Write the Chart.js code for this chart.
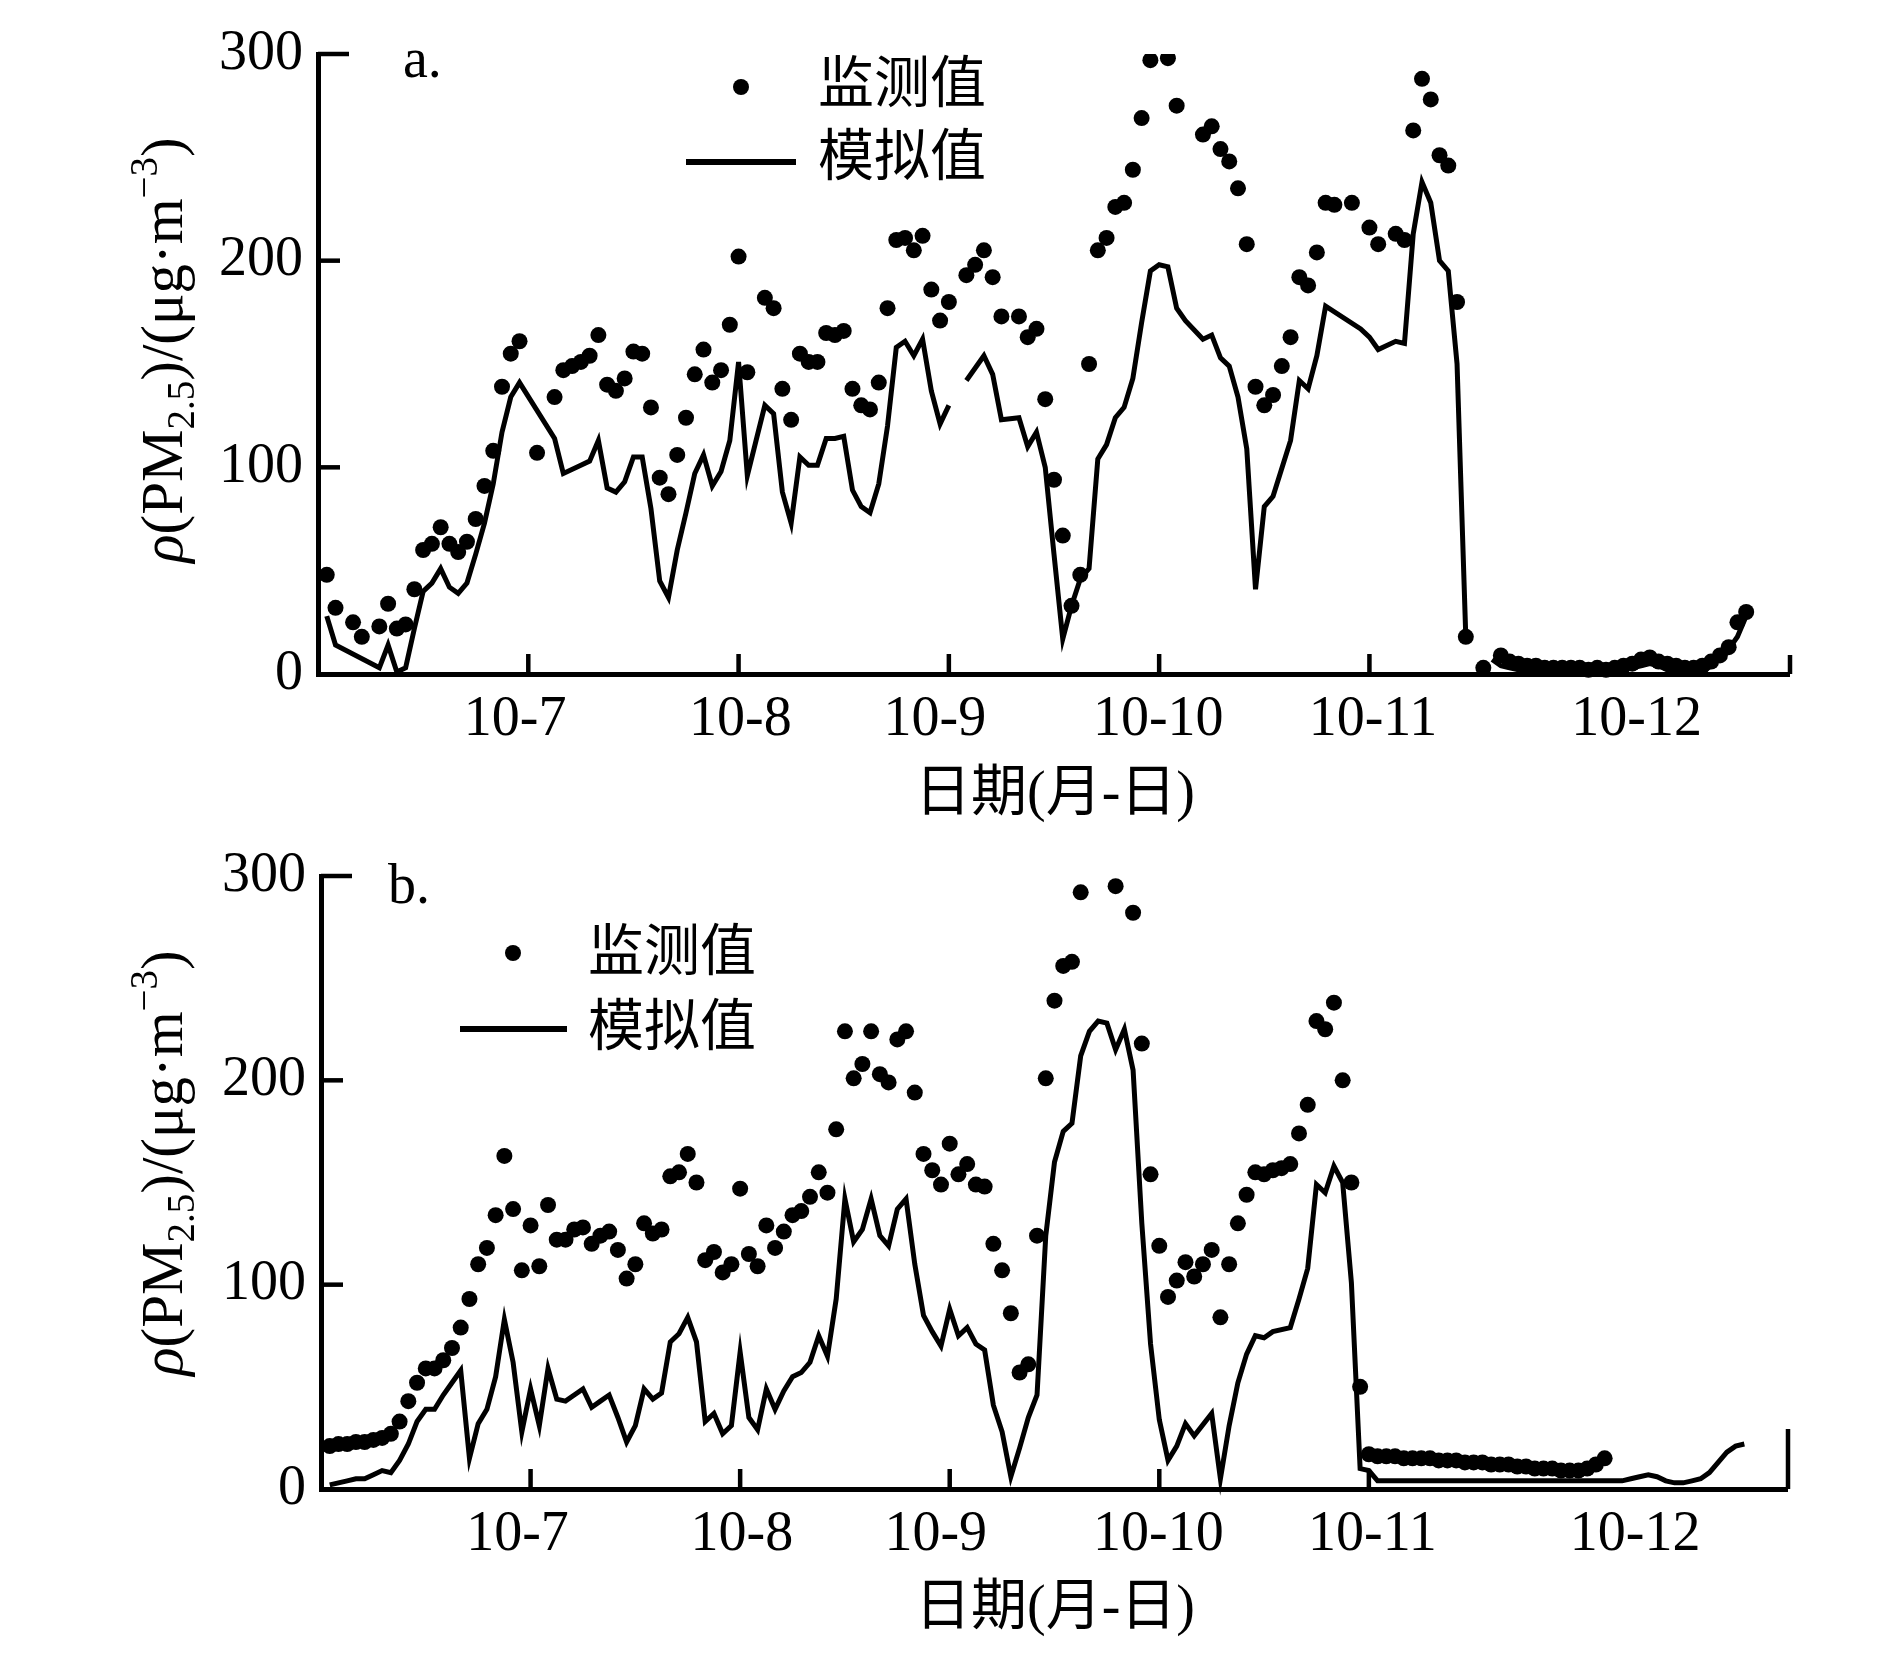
<!DOCTYPE html>
<html>
<head>
<meta charset="utf-8">
<script src="https://cdn.jsdelivr.net/npm/chart.js"></script>
<style>
  html, body { margin: 0; padding: 0; background: #fff; }
  body { width: 1887px; height: 1666px; position: relative; overflow: hidden; }
  canvas { position: absolute; left: 0; display: block; }
</style>
</head>
<body>
<canvas id="chartA" width="1887" height="833" style="top:0px"></canvas>
<canvas id="chartB" width="1887" height="833" style="top:833px"></canvas>
<script>
// ---------------- DATA ----------------
// x values are hours counted from 10-6 00:00 (one point per hour)
const xLabels   = ['10-7', '10-8', '10-9', '10-10', '10-11', '10-12'];
const xLabelPos = [22.5, 48.2, 70.4, 95.9, 120.4, 150.5];
const xTickHours = [24, 48, 72, 96, 120, 168];
const yTickValues = [0, 100, 200, 300];
const seriesNames = ['监测值', '模拟值'];

// Panel a — observed (监测值)
const aObsHours = [1,2,4,5,7,8,9,10,
  11,12,13,14,15,16,17,18,19,20,21,22,23,
  25,27,
  28,29,30,31,32,33,34,35,36,37,38,39,40,41,42,43,44,45,46,47,48,49,
  51,52,53,54,55,56,57,58,59,60,61,62,63,64,65,66,67,68,69,70,71,72,
  74,75,76,77,78,
  80,81,82,83,84,85,86,87,88,89,90,91,92,93,94,95,
  97,98,
  101,102,103,104,105,106,107,108,109,110,111,112,113,114,115,116,
  118,120,121,
  123,124,125,126,127,128,129,130,131,
  133,
  135,136,137,138,139,140,141,142,143,144,145,146,147,148,149,150,151,152,153,154,155,156,157,158,159,160,161,162,163];
const aObsValues = [48,32,25,18,23,34,22,24,
  41,60,63,71,63,59,64,75,91,108,139,155,161,
  107,134,
  147,149,151,154,164,140,137,143,156,155,129,95,87,106,124,145,157,141,147,169,202,146,
  182,177,138,123,155,151,151,165,164,166,138,130,128,141,177,210,211,205,212,186,171,180,
  193,198,205,192,173,
  173,163,167,133,94,67,33,48,150,205,211,226,228,244,269,297,
  298,275,
  261,265,254,248,235,208,139,130,135,149,163,192,188,204,228,227,
  228,216,208,
  213,210,263,288,278,251,246,180,18,
  3,
  9,6,5,4,4,3,3,3,3,3,2,3,2,3,4,5,7,8,6,5,4,3,3,4,6,9,13,25,30];

// Panel a — simulated (模拟值); null = break in the line
const aSimHours = [1,2,7,8,9,10,
  11,12,13,14,15,16,17,18,19,20,21,22,23,
  27,28,
  30,31,32,33,34,35,36,37,38,39,40,41,42,43,44,45,46,47,48,49,50,51,52,53,54,55,56,57,58,59,60,61,62,63,64,65,66,67,68,69,70,71,72,73,
  74,76,77,78,
  80,81,82,83,84,85,86,87,88,89,90,91,92,93,94,95,96,97,98,99,
  101,102,103,104,105,106,107,108,109,
  111,112,113,114,115,
  119,120,121,
  123,124,125,126,127,128,129,130,131,132,
  134,135,136,137,138,139,140,141,142,143,144,145,146,147,148,149,150,151,152,153,154,155,156,157,158,159,160,161,162,163];
const aSimValues = [28,14,3,14,1,3,
  22,40,44,51,42,39,44,58,73,92,117,134,141,
  114,97,
  101,103,113,90,88,93,105,105,80,45,37,60,78,97,106,91,98,113,151,96,113,130,126,88,73,105,101,101,114,114,115,89,81,78,92,120,158,161,154,162,137,121,130,null,
  142,154,145,123,
  124,110,117,100,58,17,33,46,51,104,111,124,129,143,170,195,198,197,177,171,
  162,164,153,149,134,109,41,81,86,
  113,142,138,154,178,
  167,163,157,
  161,160,213,238,228,200,195,150,18,null,
  7,4,3,2,2,2,1,1,1,2,2,1,1,1,2,2,3,4,5,4,2,1,1,1,1,4,8,12,18,28];

// Panel b — observed (监测值)
const bObsHours = [1,2,3,4,5,6,7,8,9,10,
  11,12,13,14,15,16,17,18,19,20,
  21,22,23,24,25,26,27,28,29,30,
  31,32,33,34,35,36,37,38,39,40,
  41,42,43,44,45,46,47,48,49,50,
  51,52,53,54,55,56,57,58,59,60,
  61,62,63,64,65,66,67,68,69,70,
  71,72,73,74,75,76,77,78,79,80,
  81,82,83,84,85,86,87,
  91,
  93,94,95,96,97,98,99,100,
  101,102,103,104,105,106,107,108,109,110,
  111,112,113,114,115,116,117,118,119,120,
  121,122,123,124,125,126,127,128,129,130,
  131,132,133,134,135,136,137,138,139,140,
  141,142,143,144,145,146,147];
const bObsValues = [21,22,22,23,23,24,25,27,33,43,
  52,59,59,63,69,79,93,110,118,134,
  163,137,107,129,109,139,122,122,127,128,
  120,124,126,117,103,110,130,125,127,153,
  155,164,150,112,116,106,110,147,115,109,
  129,118,126,134,136,143,155,145,176,224,
  201,208,224,203,199,220,224,194,164,156,
  149,169,154,159,149,148,120,107,86,57,
  61,124,201,239,256,258,292,
  295,
  282,218,154,119,94,102,111,104,
  110,117,84,110,130,144,155,154,156,157,
  159,174,188,229,225,238,200,150,50,17,
  16,16,16,15,15,15,15,14,14,14,
  13,13,13,12,12,12,11,11,10,10,
  10,9,9,9,10,12,15];

// Panel b — simulated (模拟值)
const bSimHours = [1,2,3,4,5,6,7,8,9,10,
  11,12,13,14,15,16,17,18,19,20,
  21,22,23,24,25,26,27,28,29,30,
  31,32,33,34,35,36,37,38,39,40,
  41,42,43,44,45,46,47,48,49,50,
  51,52,53,54,55,56,57,58,59,60,
  61,62,63,64,65,66,67,68,69,70,
  71,72,73,74,75,76,77,78,79,80,
  81,82,83,84,85,86,87,88,89,90,
  91,92,93,94,95,96,97,98,99,100,
  102,103,104,105,106,107,108,109,
  111,112,113,114,115,116,117,118,119,120,
  121,122,123,124,125,126,127,128,129,130,
  131,132,133,134,135,136,137,138,139,140,
  141,142,143,144,145,146,147,148,149,150,
  151,152,153,154,155,156,157,158,159,160,
  161,162,163];
const bSimValues = [2,3,4,5,5,7,9,8,14,22,
  33,39,39,46,52,58,15,32,39,55,
  83,62,28,49,31,59,44,43,46,49,
  40,43,46,35,23,31,49,44,47,72,
  76,84,72,33,37,27,31,67,35,29,
  49,39,48,55,57,62,75,65,93,142,
  121,127,142,124,119,137,142,110,85,77,
  70,88,75,79,71,68,41,28,6,20,
  35,46,124,160,175,179,212,224,229,228,
  215,225,205,130,71,34,14,21,32,26,
  37,5,31,52,66,75,74,77,
  79,93,108,149,145,158,150,101,10,9,
  4,4,4,4,4,4,4,4,4,4,
  4,4,4,4,4,4,4,4,4,4,
  4,4,4,4,4,4,4,4,4,5,
  6,7,6,4,3,3,4,5,8,13,
  18,21,22];

// ---------------- LAYOUT / STYLE ----------------
const W = 1887, H = 833, XAXIS_H = 100;
const SERIF = '"Liberation Serif", "Times New Roman", serif';
const MIXED = '"Liberation Serif", "Noto Sans CJK SC", serif';

const panelA = {
  area: { left: 318, right: 1790, top: 54, bottom: 674 },
  letter: { text: 'a.', x: 403, y: 77 },
  legend: { dotX: 741, dotY: 87, text1X: 818, text1Y: 87, lineX1: 686, lineX2: 796, lineY: 162, text2X: 818, text2Y: 160 },
  xTitle: { x: 1055, y: 795 },
  yTitle: { x: 182, y: 350 },
  endTick: 19
};
const panelB = {
  area: { left: 321, right: 1788, top: 32, bottom: 656 },
  letter: { text: 'b.', x: 388, y: 70 },
  legend: { dotX: 513, dotY: 120, text1X: 588, text1Y: 122, lineX1: 460, lineX2: 567, lineY: 196, text2X: 588, text2Y: 197 },
  xTitle: { x: 1055, y: 776 },
  yTitle: { x: 182, y: 330 },
  endTick: 60
};

function drawYTitle(ctx, bx, cy) {
  const big = 59, small = 39;
  const runs = [
    { t: 'ρ', f: 'italic ' + big + 'px ' + SERIF, dy: 0 },
    { t: '(PM', f: big + 'px ' + SERIF, dy: 0 },
    { t: '2.5', f: small + 'px ' + SERIF, dy: 12 },
    { t: ')/(μg·m', f: big + 'px ' + SERIF, dy: 0 },
    { t: '−3', f: small + 'px ' + SERIF, dy: -25 },
    { t: ')', f: big + 'px ' + SERIF, dy: 0 }
  ];
  let total = 0;
  runs.forEach(r => { ctx.font = r.f; r.w = ctx.measureText(r.t).width; total += r.w; });
  ctx.save();
  ctx.translate(bx, cy);
  ctx.rotate(-Math.PI / 2);
  ctx.textBaseline = 'alphabetic';
  ctx.textAlign = 'left';
  ctx.fillStyle = '#000';
  let x = -total / 2;
  runs.forEach(r => { ctx.font = r.f; ctx.fillText(r.t, x, r.dy); x += r.w; });
  ctx.restore();
}

function decorPlugin(P) {
  return {
    id: 'decor',
    afterDraw(chart) {
      const ctx = chart.ctx;
      const ca = chart.chartArea;
      const xs = chart.scales.x, ys = chart.scales.y;
      ctx.save();
      ctx.strokeStyle = '#000';
      ctx.fillStyle = '#000';
      ctx.lineWidth = 4.5;
      ctx.lineCap = 'butt';
      // inward y tick marks
      yTickValues.forEach(v => {
        if (v === 0) return;
        const py = ys.getPixelForValue(v);
        const len = v === 300 ? 31 : 22;
        ctx.beginPath(); ctx.moveTo(ca.left, py); ctx.lineTo(ca.left + len, py); ctx.stroke();
      });
      // inward x tick marks
      xTickHours.forEach(h => {
        const px = xs.getPixelForValue(h);
        const len = h === 168 ? P.endTick : 20;
        ctx.beginPath(); ctx.moveTo(px, ca.bottom); ctx.lineTo(px, ca.bottom - len); ctx.stroke();
      });
      // panel letter
      ctx.font = '56px ' + SERIF;
      ctx.textBaseline = 'alphabetic';
      ctx.textAlign = 'left';
      ctx.fillText(P.letter.text, P.letter.x, P.letter.y);
      // legend
      const L = P.legend;
      ctx.beginPath(); ctx.arc(L.dotX, L.dotY, 8, 0, Math.PI * 2); ctx.fill();
      ctx.lineWidth = 6;
      ctx.beginPath(); ctx.moveTo(L.lineX1, L.lineY); ctx.lineTo(L.lineX2, L.lineY); ctx.stroke();
      ctx.font = '56px ' + MIXED;
      ctx.textBaseline = 'middle';
      ctx.fillText(seriesNames[0], L.text1X, L.text1Y);
      ctx.fillText(seriesNames[1], L.text2X, L.text2Y);
      // x axis title
      ctx.textAlign = 'center';
      ctx.fillText('日期(月-日)', P.xTitle.x, P.xTitle.y);
      ctx.restore();
      // y axis title
      drawYTitle(ctx, P.yTitle.x, P.yTitle.y);
    }
  };
}

function buildChart(canvasId, P, obsHours, obsValues, simHours, simValues) {
  const obs = obsHours.map((h, i) => ({ x: h, y: obsValues[i] }));
  const sim = simHours.map((h, i) => ({ x: h, y: simValues[i] }));
  const tickFont = { family: SERIF, size: 56, lineHeight: 1 };
  const gridOpts = { display: true, drawOnChartArea: false, drawTicks: false, color: 'rgba(0,0,0,0)', lineWidth: 0 };
  return new Chart(document.getElementById(canvasId), {
    type: 'scatter',
    data: {
      datasets: [
        { label: seriesNames[0], data: obs, showLine: false, pointRadius: 8, pointHoverRadius: 8,
          pointBackgroundColor: '#000', pointBorderWidth: 0, borderColor: '#000',
          clip: { left: 12, right: 12, top: 0, bottom: 12 }, order: 2 },
        { label: seriesNames[1], data: sim, showLine: true, borderColor: '#000', borderWidth: 5,
          pointRadius: 0, pointHoverRadius: 0, spanGaps: false, tension: 0, fill: false,
          borderJoinStyle: 'miter', clip: { left: 12, right: 12, top: 0, bottom: 12 }, order: 1 }
      ]
    },
    options: {
      responsive: false,
      animation: false,
      devicePixelRatio: 1,
      events: [],
      layout: {
        autoPadding: false,
        padding: { left: 0, top: P.area.top, right: W - P.area.right, bottom: H - P.area.bottom - XAXIS_H }
      },
      plugins: { legend: { display: false }, tooltip: { enabled: false }, title: { display: false } },
      scales: {
        x: {
          type: 'linear', min: 0, max: 168,
          afterFit: s => { s.height = XAXIS_H; },
          afterBuildTicks: s => { s.ticks = xLabelPos.map(v => ({ value: v })); },
          ticks: { callback: (v, i) => xLabels[i], font: tickFont, color: '#000', padding: 18,
                   autoSkip: false, maxRotation: 0, minRotation: 0, includeBounds: false },
          grid: gridOpts,
          border: { display: true, color: '#000', width: 5 }
        },
        y: {
          type: 'linear', min: 0, max: 300,
          afterFit: s => { s.width = P.area.left; },
          afterBuildTicks: s => { s.ticks = yTickValues.map(v => ({ value: v })); },
          ticks: { font: tickFont, color: '#000', padding: 15 },
          grid: gridOpts,
          border: { display: true, color: '#000', width: 5 }
        }
      }
    },
    plugins: [decorPlugin(P)]
  });
}

buildChart('chartA', panelA, aObsHours, aObsValues, aSimHours, aSimValues);
buildChart('chartB', panelB, bObsHours, bObsValues, bSimHours, bSimValues);
</script>
</body>
</html>
